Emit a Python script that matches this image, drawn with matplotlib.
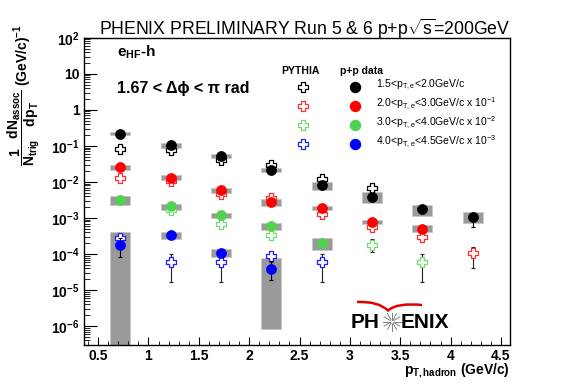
import numpy as np
import matplotlib
matplotlib.use("Agg")
import matplotlib.pyplot as plt
from matplotlib.path import Path
from matplotlib.patches import PathPatch, Rectangle
from matplotlib.lines import Line2D
from matplotlib.ticker import FixedLocator, FixedFormatter, LogLocator, MultipleLocator, NullFormatter

plt.rcParams['font.family'] = ['Liberation Sans', 'DejaVu Sans']
plt.rcParams['mathtext.fontset'] = 'custom'
plt.rcParams['mathtext.rm'] = 'Liberation Sans'
plt.rcParams['mathtext.bf'] = 'Liberation Sans:bold'
plt.rcParams['mathtext.it'] = 'Liberation Sans:italic'
plt.rcParams['mathtext.default'] = 'bf'

nan = np.nan
# ---------------- data ----------------
pt_hadron = [0.72, 1.22, 1.72, 2.22, 2.72, 3.22, 3.72, 4.22]
series_labels = [r'1.5<p$_{\mathrm{T,e}}$<2.0GeV/c',
                 r'2.0<p$_{\mathrm{T,e}}$<3.0GeV/c x 10$^{\mathrm{-1}}$',
                 r'3.0<p$_{\mathrm{T,e}}$<4.0GeV/c x 10$^{\mathrm{-2}}$',
                 r'4.0<p$_{\mathrm{T,e}}$<4.5GeV/c x 10$^{\mathrm{-3}}$']
data_colors = ['#000000', '#ff0000', '#4fd34f', '#0000ff']
pythia_colors = ['#000000', '#ff3030', '#70dd70', '#2020ff']

# p+p data
data_y = [
    [0.22, 0.104, 0.051, 0.022, 0.0080, 0.0037, 0.0018, 0.00104],
    [0.026, 0.0129, 0.0058, 0.0028, 0.0019, 0.00079, 0.00050, nan],
    [0.0032, 0.0021, 0.0012, 0.00060, 0.00020, nan, nan, nan],
    [1.75e-4, 3.4e-4, 1.1e-4, 3.9e-5, nan, nan, nan, nan],
]
data_err_lo = [
    [0.20, 0.098, 0.048, 0.019, 0.0075, 0.0034, 0.0016, 0.00057],
    [0.025, 0.0124, 0.0055, 0.0026, 0.0018, 0.00075, 0.00047, nan],
    [0.0031, 0.0020, 0.00115, 0.00057, 0.00016, nan, nan, nan],
    [8.4e-5, 3.2e-4, 1.0e-4, 1.86e-5, nan, nan, nan, nan],
]
data_err_hi = [
    [0.24, 0.11, 0.054, 0.028, 0.0096, 0.0040, 0.0020, 0.0012],
    [0.027, 0.0135, 0.0061, 0.0030, 0.0020, 0.00083, 0.00053, nan],
    [0.0033, 0.0022, 0.00125, 0.00063, 0.00022, nan, nan, nan],
    [2.7e-4, 3.6e-4, 1.2e-4, 6.3e-5, nan, nan, nan, nan],
]
# systematic boxes (low, high)
sys_lo = [
    [0.195, 0.087, 0.046, 0.019, 0.0059, 0.0026, 0.00112, 0.00072],
    [0.022, 0.0111, 0.0050, 0.0022, 0.00162, 0.00069, 0.00041, nan],
    [0.0023, 0.0017, 0.00102, 0.00047, 0.000132, nan, nan, nan],
    [1e-8, 2.66e-4, 8.3e-5, 8.5e-7, nan, nan, nan, nan],
]
sys_hi = [
    [0.25, 0.117, 0.059, 0.025, 0.0098, 0.0052, 0.0023, 0.00145],
    [0.0295, 0.0151, 0.0066, 0.0034, 0.0022, 0.00089, 0.00062, nan],
    [0.0042, 0.0024, 0.00138, 0.00072, 0.00028, nan, nan, nan],
    [4.1e-4, 4.2e-4, 1.38e-4, 7.6e-5, nan, nan, nan, nan],
]
# PYTHIA
pythia_y = [
    [0.084, 0.079, 0.040, 0.029, 0.0121, 0.0066, nan, nan],
    [0.013, 0.0104, 0.0045, 0.0036, 0.00132, 0.00056, 0.00029, 1.05e-4],
    [nan, 0.00166, 0.00069, 0.00033, nan, 1.8e-4, 6.0e-5, nan],
    [2.8e-4, 5.9e-5, 5.9e-5, 8.6e-5, 5.9e-5, nan, nan, nan],
]
pythia_lo = [
    [0.080, 0.075, 0.038, 0.027, 0.0112, 0.0060, nan, nan],
    [0.0125, 0.0099, 0.0043, 0.0034, 0.00124, 0.00052, 0.00026, 4.1e-5],
    [nan, 0.00158, 0.00064, 0.00028, nan, 1.12e-4, 1.7e-5, nan],
    [2.6e-4, 1.7e-5, 1.7e-5, 6.0e-5, 1.7e-5, nan, nan, nan],
]
pythia_hi = [
    [0.088, 0.083, 0.042, 0.031, 0.0130, 0.0072, nan, nan],
    [0.0135, 0.0109, 0.0047, 0.0038, 0.00140, 0.00060, 0.00032, 1.6e-4],
    [nan, 0.00174, 0.00074, 0.00038, nan, 2.6e-4, 1.0e-4, nan],
    [3.0e-4, 1.02e-4, 1.02e-4, 1.25e-4, 1.02e-4, nan, nan, nan],
]
box_halfwidth = 0.1

y_major = [1e2, 1e1, 1e0, 1e-1, 1e-2, 1e-3, 1e-4, 1e-5, 1e-6]
y_major_labels = [r'10$^{2}$', '10', '1', r'10$^{-1}$', r'10$^{-2}$', r'10$^{-3}$',
                  r'10$^{-4}$', r'10$^{-5}$', r'10$^{-6}$']
x_major = [0.5, 1, 1.5, 2, 2.5, 3, 3.5, 4, 4.5]
x_major_labels = ['0.5', '1', '1.5', '2', '2.5', '3', '3.5', '4', '4.5']

# ---------------- figure ----------------
W, H = 567, 384
fig = plt.figure(figsize=(W / 100, H / 100), dpi=100)
L, R, T, B = 84, 510, 37.7, 345
ax = fig.add_axes([L / W, 1 - B / H, (R - L) / W, (B - T) / H])
ax.set_yscale('log')
ax.set_xlim(0.36, 4.59)
ax.set_ylim(3.0e-7, 100)

def fx(px):
    return px / W

def fy(py):
    return 1 - py / H

# open cross marker
a = 1 / 3.
cross_verts = [(-a, 1), (a, 1), (a, a), (1, a), (1, -a), (a, -a), (a, -1), (-a, -1),
               (-a, -a), (-1, -a), (-1, a), (-a, a), (-a, 1)]
cross_path = Path(cross_verts, closed=True)

x = np.array(pt_hadron)
# systematic boxes
for s in range(4):
    for i in range(len(x)):
        lo, hi = sys_lo[s][i], sys_hi[s][i]
        if np.isnan(lo):
            continue
        ax.add_patch(Rectangle((x[i] - box_halfwidth, lo), 2 * box_halfwidth, hi - lo,
                               facecolor='#9a9a9a', edgecolor='#c8c8c8', lw=0.6, zorder=1))

# PYTHIA
for s in range(4):
    y = np.array(pythia_y[s])
    lo = y - np.array(pythia_lo[s])
    hi = np.array(pythia_hi[s]) - y
    ax.errorbar(x, y, yerr=[lo, hi], fmt='none', ecolor='#222222', elinewidth=0.8,
                capsize=1.5, capthick=0.8, zorder=2)
    ax.plot(x, y, linestyle='none', marker=cross_path, markersize=7,
            markerfacecolor='white', markeredgecolor=pythia_colors[s],
            markeredgewidth=0.9, zorder=3)

# data
for s in range(4):
    y = np.array(data_y[s])
    lo = y - np.array(data_err_lo[s])
    hi = np.array(data_err_hi[s]) - y
    ax.errorbar(x, y, yerr=[lo, hi], fmt='none', ecolor='black', elinewidth=0.8,
                capsize=1.5, capthick=0.8, zorder=4)
    ax.plot(x, y, linestyle='none', marker='o', markersize=7.2,
            markerfacecolor=data_colors[s], markeredgecolor=data_colors[s],
            markeredgewidth=0.5, zorder=5)

# axes styling
ax.yaxis.set_major_locator(FixedLocator(y_major))
ax.yaxis.set_major_formatter(FixedFormatter(y_major_labels))
ax.yaxis.set_minor_locator(LogLocator(base=10, subs=np.arange(2, 10), numticks=20))
ax.yaxis.set_minor_formatter(NullFormatter())
ax.xaxis.set_major_locator(FixedLocator(x_major))
ax.xaxis.set_major_formatter(FixedFormatter(x_major_labels))
ax.xaxis.set_minor_locator(MultipleLocator(0.1))
ax.tick_params(axis='both', which='both', direction='in', top=False, right=False)
ax.tick_params(axis='y', which='major', length=9, width=0.8, labelsize=10, pad=3)
ax.tick_params(axis='y', which='minor', length=4.5, width=0.6)
ax.tick_params(axis='x', which='major', length=6, width=0.8, labelsize=10, pad=3)
ax.tick_params(axis='x', which='minor', length=3, width=0.6)
for lab in ax.get_xticklabels() + ax.get_yticklabels():
    lab.set_fontweight('bold')
for sp in ax.spines.values():
    sp.set_linewidth(1.0)

# title
fig.text(fx(99), fy(29), r'PHENIX PRELIMINARY Run 5 & 6 p+p$\mathrm{\sqrt{s}}$=200GeV',
         fontsize=12.7, ha='left', va='center')

# annotations
fig.text(fx(117), fy(52), r'e$_{\mathbf{HF}}$-h', fontsize=11, fontweight='bold',
         ha='left', va='center')
fig.text(fx(117), fy(88), '1.67 < \u0394\u03d5 < \u03c0 rad', fontsize=11.5,
         fontweight='bold', ha='left', va='center')

# legend
fig.text(fx(300), fy(71), 'PYTHIA', fontsize=7.5, fontweight='bold', ha='center', va='center')
fig.text(fx(362), fy(71), 'p+p data', fontsize=7.5, fontweight='bold', ha='center', va='center')
leg_y = [86.5, 106, 125, 143.5]
for s in range(4):
    fig.add_artist(Line2D([fx(303)], [fy(leg_y[s])], marker=cross_path, markersize=7,
                          markerfacecolor='white', markeredgecolor=pythia_colors[s],
                          markeredgewidth=0.9, linestyle='none'))
    fig.add_artist(Line2D([fx(355)], [fy(leg_y[s])], marker='o', markersize=7.2,
                          markerfacecolor=data_colors[s], markeredgecolor=data_colors[s],
                          linestyle='none'))
    fig.text(fx(376), fy(leg_y[s] - 2), series_labels[s], fontsize=7.5,
             ha='left', va='center')

# axis labels
fig.text(fx(404), fy(371), r'p$_{\mathbf{T,hadron}}$ (GeV/c)', fontsize=10,
         fontweight='bold', ha='left', va='center')
fig.text(fx(24), fy(95), r'$\dfrac{1}{N_{trig}}\dfrac{dN_{assoc}}{dp_{T}}$ (GeV/c)$^{-1}$',
         fontsize=10, fontweight='bold', rotation=90, ha='center', va='center')

# PHENIX logo
fig.text(fx(351), fy(322), 'PH', fontsize=15, fontweight='bold', ha='left', va='center')
fig.text(fx(401), fy(322), 'ENIX', fontsize=15, fontweight='bold', ha='left', va='center')
cx, cy = 392, 321.5
for k in range(12):
    ang = np.pi * k / 6
    r1, r2 = 2.0, 9.0
    fig.add_artist(Line2D([fx(cx + r1 * np.cos(ang)), fx(cx + r2 * np.cos(ang))],
                          [fy(cy + r1 * np.sin(ang)), fy(cy + r2 * np.sin(ang))],
                          color='#808080', lw=0.7))
arc = Path([(fx(357), fy(302)), (fx(378), fy(301)), (fx(388), fy(310.5)),
            (fx(397), fy(302.5)), (fx(422), fy(305))],
           [Path.MOVETO, Path.CURVE3, Path.CURVE3, Path.CURVE3, Path.CURVE3])
fig.add_artist(PathPatch(arc, facecolor='none', edgecolor='#e00000', lw=1.8,
                         transform=fig.transFigure))

fig.savefig('out.png', dpi=100)
